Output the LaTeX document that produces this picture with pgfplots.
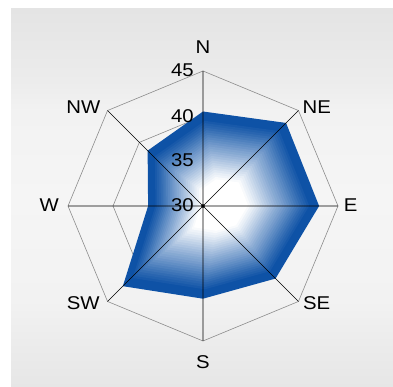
\documentclass[border=0pt]{standalone}
\usepackage{pgfplots}
\pgfplotsset{compat=1.18}
\usepackage{pgfplotstable}
\usepackage{fontspec}
\setmainfont{Liberation Sans}
\definecolor{myblue}{RGB}{14,82,166}
\definecolor{ringgray}{RGB}{140,140,140}
\definecolor{bgA}{RGB}{228,228,228}
\definecolor{bgB}{RGB}{236,236,236}
\definecolor{bgC}{RGB}{242,242,242}
\definecolor{bgD}{RGB}{245,245,245}
\definecolor{bgE}{RGB}{230,230,230}
\pgfdeclareverticalshading{bgshade}{100bp}{color(0bp)=(bgE); color(25bp)=(bgE); color(31bp)=(bgB); color(36.5bp)=(bgC); color(50bp)=(bgD); color(61.5bp)=(bgC); color(65.5bp)=(bgB); color(75bp)=(bgA); color(100bp)=(bgA)}

\pgfplotstableread{
a v
90 40.5
45 43.05
0 42.9
-45 41.4
-90 40.3
-135 42.6
180 36.1
135 38.7
}\winddata

\pgfplotstableread{
a r35 r40 r45
90 35 40 45
45 35 40 45
0 35 40 45
-45 35 40 45
-90 35 40 45
-135 35 40 45
180 35 40 45
135 35 40 45
90 35 40 45
}\ringangles

\begin{document}
\begin{tikzpicture}
\begin{axis}[
  width=393pt, height=387pt, scale only axis,
  xmin=-203, xmax=190, ymin=-181, ymax=206,
  hide axis, clip=false,
]
% picture frame and background
\path (axis cs:-203,-181) rectangle (axis cs:190,206);
\path[shading=bgshade] (axis cs:-192,-181) rectangle (axis cs:190,197);

% octagonal rings (35, 40, 45)
\addplot[ringgray, line width=0.6pt, forget plot] table[x expr={(\thisrow{r35}-30)*9*cos(\thisrow{a})}, y expr={(\thisrow{r35}-30)*9*sin(\thisrow{a})}] {\ringangles};
\addplot[ringgray, line width=0.6pt, forget plot] table[x expr={(\thisrow{r40}-30)*9*cos(\thisrow{a})}, y expr={(\thisrow{r40}-30)*9*sin(\thisrow{a})}] {\ringangles};
\addplot[ringgray, line width=0.6pt, forget plot] table[x expr={(\thisrow{r45}-30)*9*cos(\thisrow{a})}, y expr={(\thisrow{r45}-30)*9*sin(\thisrow{a})}] {\ringangles};

% filled data polygon with path gradient (nested scaled copies)
\pgfplotsinvokeforeach{0,...,39}{
  \pgfmathsetmacro\s{1-#1/40}
  \pgfmathtruncatemacro\pct{max(0,min(100,(\s-0.28)/0.64*100))}
  \edef\doit{\noexpand\addplot[draw=none, fill=myblue!\pct!white, forget plot]
    table[x expr={18+\s*((\noexpand\thisrow{v}-30)*9*cos(\noexpand\thisrow{a})-18)},
          y expr={1+\s*((\noexpand\thisrow{v}-30)*9*sin(\noexpand\thisrow{a})-1)}] {\noexpand\winddata};}
  \doit
}

% spokes
\addplot[black, line width=0.6pt, forget plot] coordinates {
 (0,0) (0,135) (0,0) (95.46,95.46) (0,0) (135,0) (0,0) (95.46,-95.46)
 (0,0) (0,-135) (0,0) (-95.46,-95.46) (0,0) (-135,0) (0,0) (-95.46,95.46)};
\addplot[black, only marks, mark=*, mark size=1.6pt, forget plot] coordinates {(0,0)};

% direction labels
\tikzset{lab/.style={font=\fontsize{18.5}{20}\selectfont, xscale=1.1, inner sep=0pt}}
\node[lab] at (axis cs:0,159.3) {N};
\node[lab] at (axis cs:113.7,98.7) {NE};
\node[lab] at (axis cs:147.7,1) {E};
\node[lab] at (axis cs:113.7,-96.7) {SE};
\node[lab] at (axis cs:0,-155.7) {S};
\node[lab] at (axis cs:-119.7,-96.7) {SW};
\node[lab] at (axis cs:-153.7,1) {W};
\node[lab] at (axis cs:-119.7,98.7) {NW};

% radial tick labels
\node[lab, anchor=east] at (axis cs:-9,136) {45};
\node[lab, anchor=east] at (axis cs:-9,90) {40};
\node[lab, anchor=east] at (axis cs:-9,45.7) {35};
\node[lab, anchor=east] at (axis cs:-9,1) {30};
\end{axis}
\end{tikzpicture}
\end{document}
